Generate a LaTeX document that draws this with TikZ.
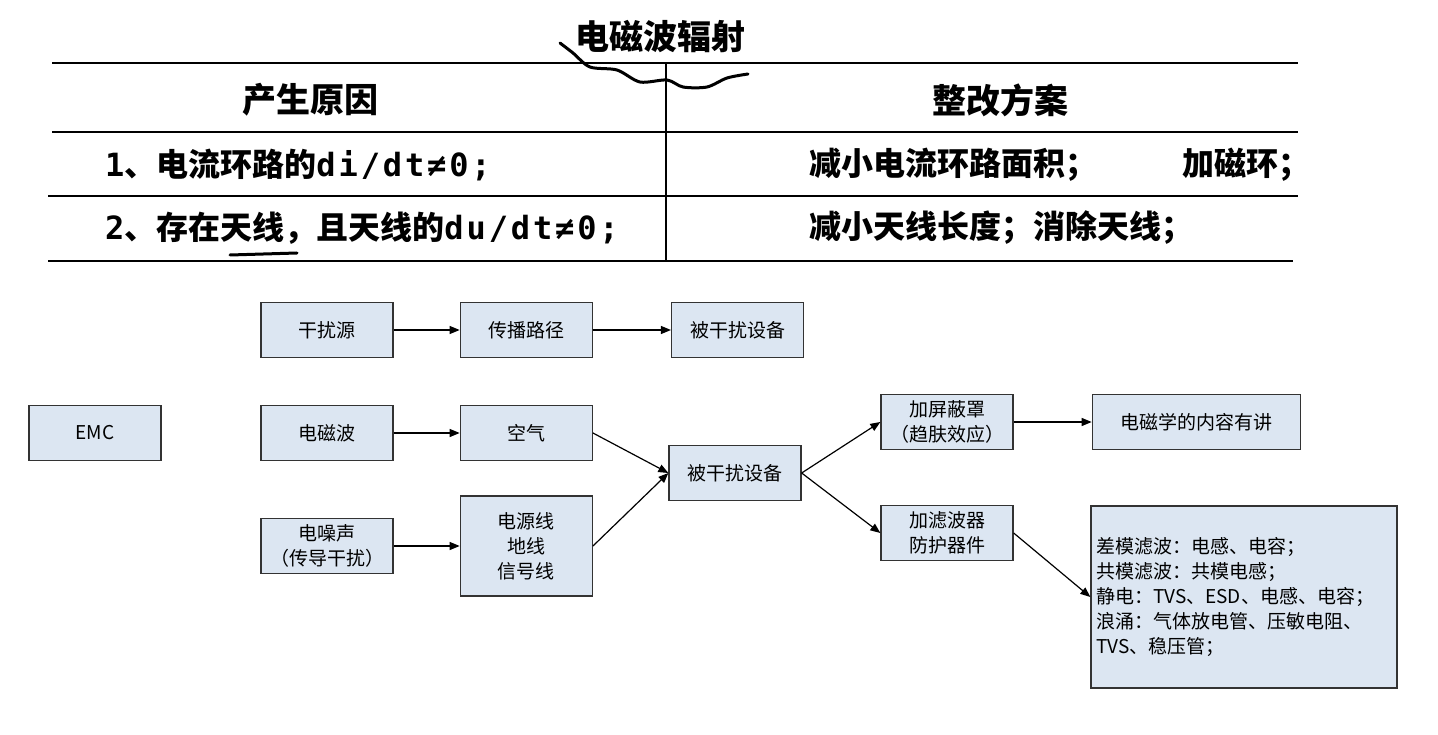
\documentclass[tikz,border=0pt]{standalone}
\usepackage{fontspec}
\setmainfont{Noto Sans CJK SC}
\newfontfamily\monof[LetterSpace=9]{DejaVu Sans Mono}
\usepackage{xcolor}
\usetikzlibrary{arrows.meta,positioning}
\definecolor{emcBlue}{HTML}{DCE6F2}
\definecolor{emcEdge}{HTML}{333333}

\begin{document}
\begin{tikzpicture}[x=1pt,y=-1pt,
    flowbox/.style={draw=emcEdge, line width=1.3pt, fill=emcBlue, minimum width=132pt, minimum height=55pt, inner sep=2pt, align=center, font=\fontsize{19}{25}\selectfont},
    flowarrow/.style={-{Triangle[length=10pt,width=8pt]}, line width=1.2pt},
    rule/.style={line width=1.4pt},
    cell/.style={anchor=west, inner sep=0pt, font=\bfseries\fontsize{32}{38}\selectfont}]
    \useasboundingbox (0,0) rectangle (1438,735);

    % table
    \node[font=\bfseries\fontsize{34}{40}\selectfont] (title) at (660,37) {电磁波辐射};
    \draw[line width=3pt, line cap=round] plot[smooth] coordinates {(560,43) (573,53) (590,67) (617,70) (640,82) (667,80) (683,87) (707,87) (727,78) (748,74)};
    \draw[rule] (52,63) -- (1298,63);
    \draw[rule] (52,132) -- (1298,132);
    \draw[rule] (48,196) -- (1298,196);
    \draw[rule] (48,261) -- (1293,261);
    \draw[rule] (666,63) -- (666,261);
    \node[font=\bfseries\fontsize{34}{40}\selectfont] (causeHead) at (310,100) {产生原因};
    \node[font=\bfseries\fontsize{34}{40}\selectfont] (fixHead) at (1000,100) {整改方案};
    \node[cell] (causeA) at (105,165) {{\monof 1}、电流环路的{\monof di/dt≠0;}};
    \node[cell] (causeB) at (105,228) {{\monof 2}、存在天线，且天线的{\monof du/dt≠0;}};
    \draw[line width=3pt, line cap=round] (230,255) -- (297,253);
    \node[cell] (fixA) at (809,165) {减小电流环路面积；\hspace{85pt}加磁环；};
    \node[cell] (fixB) at (809,228) {减小天线长度；消除天线；};

    % flow chart
    \node[flowbox] (source) at (327,330) {干扰源};
    \node[flowbox, right=66pt of source] (route) {传播路径};
    \node[flowbox, right=78pt of route] (victimTop) {被干扰设备};
    \node[flowbox] (emc) at (95,433) {EMC};
    \node[flowbox] (wave) at (327,433) {电磁波};
    \node[flowbox, right=66pt of wave] (air) {空气};
    \node[flowbox] (noise) at (327,546) {电噪声\\（传导干扰）};
    \node[flowbox, right=66pt of noise, minimum height=100pt] (cable) {电源线\\地线\\信号线};
    \node[flowbox] (victim) at (735,473) {被干扰设备};
    \node[flowbox] (shield) at (947,422) {加屏蔽罩\\（趋肤效应）};
    \node[flowbox, right=78pt of shield, minimum width=208pt] (theory) {电磁学的内容有讲};
    \node[flowbox] (filter) at (947,533) {加滤波器\\防护器件};
    \node[flowbox, minimum width=306pt, minimum height=182pt, text width=296pt, inner sep=5pt, align=left] (parts) at (1244,597) {差模滤波：电感、电容；\\共模滤波：共模电感；\\静电：TVS、ESD、电感、电容；\\浪涌：气体放电管、压敏电阻、\\TVS、稳压管；};

    \draw[flowarrow] (source) -- (route);
    \draw[flowarrow] (route) -- (victimTop);
    \draw[flowarrow] (wave) -- (air);
    \draw[flowarrow] (noise) -- (cable);
    \draw[flowarrow] (air.east) -- (victim.west);
    \draw[flowarrow] (cable.east) -- (victim.west);
    \draw[flowarrow] (victim.east) -- (shield.west);
    \draw[flowarrow] (victim.east) -- (filter.west);
    \draw[flowarrow] (shield) -- (theory);
    \draw[flowarrow] (filter.east) -- (parts.west);
\end{tikzpicture}
\end{document}
